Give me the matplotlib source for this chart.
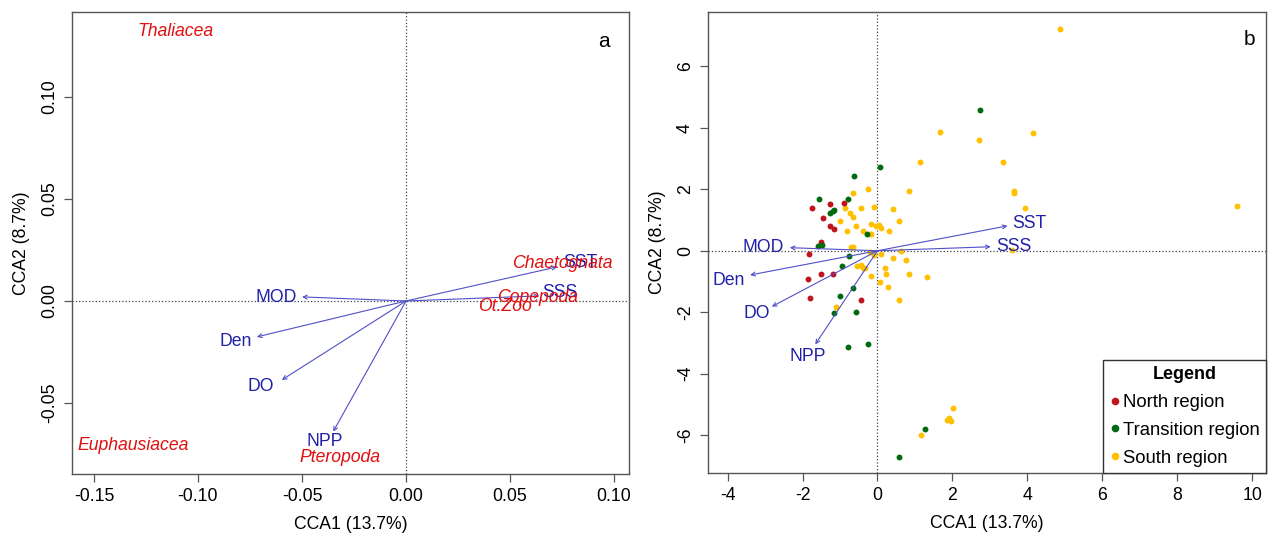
import matplotlib
matplotlib.use("Agg")
import matplotlib.pyplot as plt
from matplotlib.lines import Line2D

# ==========================================
# DATA
# ==========================================
AXIS_X = "CCA1 (13.7%)"
AXIS_Y = "CCA2 (8.7%)"

# environmental vectors (panel a: species scaling, panel b: site scaling)
ENV_NAMES = ["SST", "SSS", "MOD", "Den", "DO", "NPP"]
ENV_A_X = [0.0726, 0.064, -0.050, -0.0717, -0.0597, -0.035]
ENV_A_Y = [0.0167, 0.0025, 0.002, -0.0176, -0.0387, -0.064]
ENV_A_LX = [0.084, 0.074, -0.0625, -0.082, -0.0697, -0.039]
ENV_A_LY = [0.019, 0.004, 0.0015, -0.020, -0.042, -0.069]

ENV_B_X = [3.47, 3.02, -2.34, -3.40, -2.82, -1.66]
ENV_B_Y = [0.81, 0.13, 0.10, -0.79, -1.82, -3.05]
ENV_B_LX = [4.06, 3.63, -3.05, -3.98, -3.23, -1.87]
ENV_B_LY = [0.90, 0.13, 0.09, -0.98, -2.03, -3.45]

# species scores
SPECIES = ["Thaliacea", "Euphausiacea", "Pteropoda", "Chaetognata", "Copepoda", "Ot.Zoo"]
SPECIES_X = [-0.111, -0.131, -0.032, 0.075, 0.063, 0.0476]
SPECIES_Y = [0.132, -0.071, -0.0765, 0.0186, 0.0015, -0.0025]

# site scores by region
NORTH_X = [-1.75, -1.27, -0.90, -1.45, -1.26, -1.15, -1.52, -1.82, -1.86, -1.51, -1.18, -1.79, -0.45]
NORTH_Y = [1.38, 1.51, 1.56, 1.08, 0.81, 0.70, 0.29, -0.11, -0.92, -0.76, -0.76, -1.53, -1.61]

TRANS_X = [0.08, -0.63, -1.57, -0.79, -1.26, -1.20, -1.15, -0.28, -1.60, -1.49, -0.77,
           -0.94, -0.65, -0.99, -0.56, -1.17, -0.79, -0.25, 2.74, 1.26, 0.57]
TRANS_Y = [2.74, 2.43, 1.67, 1.67, 1.23, 1.29, 1.33, 0.54, 0.15, 0.18, -0.17,
           -0.50, -1.20, -1.47, -1.99, -2.04, -3.13, -3.05, 4.58, -5.81, -6.73]

SOUTH_X = [1.66, 1.13, 0.84, -0.25, -0.66, -0.86, -0.43, -0.08, 0.42, -0.74, -0.65, -1.01,
           0.57, -0.56, -0.16, -0.03, 0.05, 0.10, -0.81, -0.38, -0.20, -0.16, 0.32, -0.70,
           -0.66, 0.63, -0.20, -0.10, 0.10, 0.41, 0.75, -0.54, -0.45, -0.39, -0.32, 0.20,
           0.23, 0.84, 1.33, -0.17, 0.08, 0.28, 0.57, -1.10, 4.87, 2.72, 4.14, 3.35, 3.65,
           3.63, 3.93, 3.60, 9.59, 2.02, 1.86, 1.97, 1.91, 1.15]
SOUTH_Y = [3.88, 2.88, 1.95, 2.01, 1.89, 1.40, 1.38, 1.41, 1.36, 1.22, 1.11, 0.97,
           0.97, 0.81, 0.87, 0.79, 0.83, 0.73, 0.64, 0.65, 0.56, 0.54, 0.63, 0.13,
           0.13, 0.00, -0.05, -0.14, -0.10, -0.25, -0.30, -0.49, -0.47, -0.55, -0.57, -0.57,
           -0.77, -0.76, -0.85, -0.81, -1.03, -1.17, -1.61, -1.84, 7.22, 3.61, 3.83, 2.88, 1.95,
           1.87, 1.40, 0.02, 1.46, -5.11, -5.51, -5.55, -5.46, -6.00]

REGIONS = ["North region", "Transition region", "South region"]
REGION_COLORS = ["#c0141c", "#006a10", "#ffc000"]

# ==========================================
# STYLE
# ==========================================
plt.rcParams["font.family"] = ["Liberation Sans", "DejaVu Sans"]
FS = 12.7
ARROW_COL = "#5050c8"
LABEL_COL = "#2020a8"
SPECIES_COL = "#e01010"
SPINE_COL = "#555555"


def style_axes(ax, xticks, yticks, fmt):
    for s in ax.spines.values():
        s.set_color(SPINE_COL)
        s.set_linewidth(1.0)
    ax.set_xticks(xticks)
    ax.set_yticks(yticks)
    ax.set_xticklabels([fmt.format(v) for v in xticks])
    ax.set_yticklabels([fmt.format(v) for v in yticks], rotation=90, va="center")
    ax.tick_params(length=6, width=0.9, color=SPINE_COL, labelsize=FS, pad=4)
    ax.set_xlabel(AXIS_X, fontsize=FS, labelpad=8)
    ax.set_ylabel(AXIS_Y, fontsize=FS, labelpad=8)
    ax.axhline(0, color="#444444", linestyle=":", linewidth=0.9, zorder=1)
    ax.axvline(0, color="#444444", linestyle=":", linewidth=0.9, zorder=1)


def draw_arrows(ax, xs, ys, lxs, lys):
    for name, x, y, lx, ly in zip(ENV_NAMES, xs, ys, lxs, lys):
        ax.annotate("", xy=(x, y), xytext=(0, 0),
                    arrowprops=dict(arrowstyle="->", color=ARROW_COL, lw=0.8,
                                    shrinkA=0, shrinkB=0, mutation_scale=7),
                    zorder=4)
        ax.text(lx, ly, name, color=LABEL_COL, fontsize=FS, ha="center", va="center", zorder=5)


fig = plt.figure(figsize=(12.69, 5.37), dpi=100)
ax_a = fig.add_axes([0.057, 0.1173, 0.4384, 0.861])
ax_b = fig.add_axes([0.5577, 0.119, 0.44, 0.859])

# --- panel a ---
ax_a.set_xlim(-0.1604, 0.107)
ax_a.set_ylim(-0.0848, 0.1418)
style_axes(ax_a, [-0.15, -0.10, -0.05, 0.00, 0.05, 0.10], [-0.05, 0.00, 0.05, 0.10], "{:.2f}")
draw_arrows(ax_a, ENV_A_X, ENV_A_Y, ENV_A_LX, ENV_A_LY)
for name, x, y in zip(SPECIES, SPECIES_X, SPECIES_Y):
    ax_a.text(x, y, name, color=SPECIES_COL, fontsize=FS, style="italic",
              ha="center", va="center", zorder=6)
ax_a.text(0.955, 0.935, "a", transform=ax_a.transAxes, fontsize=15, ha="center", va="center")

# --- panel b ---
ax_b.set_xlim(-4.53, 10.37)
ax_b.set_ylim(-7.24, 7.78)
style_axes(ax_b, list(range(-4, 11, 2)), list(range(-6, 7, 2)), "{:d}")
for xs, ys, col in [(SOUTH_X, SOUTH_Y, REGION_COLORS[2]),
                    (NORTH_X, NORTH_Y, REGION_COLORS[0]),
                    (TRANS_X, TRANS_Y, REGION_COLORS[1])]:
    ax_b.scatter(xs, ys, s=18, color=col, linewidths=0, zorder=3)
draw_arrows(ax_b, ENV_B_X, ENV_B_Y, ENV_B_LX, ENV_B_LY)
ax_b.text(0.97, 0.94, "b", transform=ax_b.transAxes, fontsize=15, ha="center", va="center")

handles = [Line2D([], [], marker="o", linestyle="", markersize=5.5, color=c,
                  markeredgewidth=0) for c in REGION_COLORS]
leg = ax_b.legend(handles, REGIONS, title="Legend", loc="lower right",
                  borderaxespad=0, fancybox=False, edgecolor="#333333",
                  fontsize=13.3, title_fontproperties={"weight": "bold", "size": 13},
                  handlelength=0.6, handletextpad=0.15, labelspacing=0.58,
                  borderpad=0.35, framealpha=1)
leg.get_frame().set_linewidth(1.0)

fig.savefig("out.png", dpi=100)
